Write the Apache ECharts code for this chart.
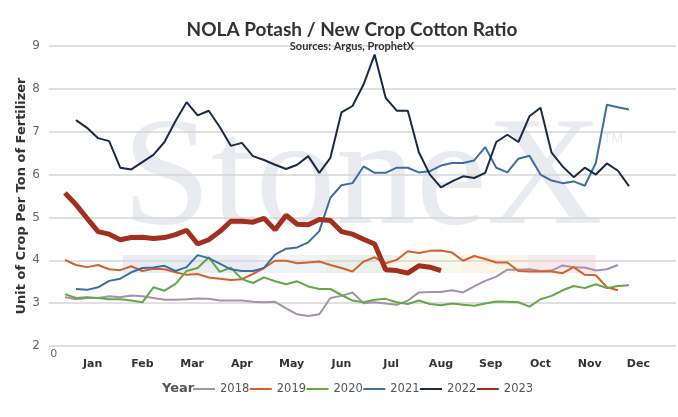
<!DOCTYPE html>
<html>
<head>
<meta charset="utf-8">
<script src="https://cdn.jsdelivr.net/npm/echarts@6/dist/echarts.min.js"></script>
<style>
  html, body { margin: 0; padding: 0; background: #fff; }
  #main { width: 678px; height: 417px; }
</style>
</head>
<body>
<div id="main"></div>
<script>
// weekly ratios
const years = ['2018', '2019', '2020', '2021', '2022', '2023'];
const startWeek = [1, 1, 1, 2, 2, 1];

const y2018 = [3.14, 3.09, 3.12, 3.12, 3.16, 3.14, 3.18, 3.16, 3.12, 3.08, 3.08, 3.09, 3.11, 3.10, 3.06, 3.06, 3.06,
  3.03, 3.02, 3.03, 2.88, 2.74, 2.70, 2.74, 3.12, 3.17, 3.25, 3.00, 3.02, 2.99, 2.96, 3.06, 3.25, 3.26, 3.26, 3.30,
  3.25, 3.39, 3.52, 3.62, 3.78, 3.78, 3.79, 3.75, 3.76, 3.88, 3.84, 3.83, 3.76, 3.79, 3.89];
const y2019 = [4.01, 3.89, 3.84, 3.89, 3.79, 3.77, 3.86, 3.75, 3.80, 3.79, 3.72, 3.66, 3.68, 3.60, 3.57, 3.54, 3.56,
  3.68, 3.82, 3.99, 3.99, 3.93, 3.95, 3.97, 3.89, 3.82, 3.74, 3.97, 4.07, 3.93, 4.01, 4.21, 4.17, 4.22, 4.23, 4.18,
  3.99, 4.10, 4.03, 3.95, 3.95, 3.75, 3.74, 3.74, 3.74, 3.70, 3.84, 3.66, 3.65, 3.37, 3.30];
const y2020 = [3.21, 3.12, 3.14, 3.12, 3.09, 3.09, 3.06, 3.02, 3.37, 3.29, 3.45, 3.75, 3.82, 4.07, 3.73, 3.83, 3.56, 3.47,
  3.60, 3.51, 3.44, 3.51, 3.39, 3.33, 3.33, 3.19, 3.06, 3.02, 3.08, 3.10, 3.02, 2.98, 3.06, 2.98, 2.95, 2.99, 2.96,
  2.94, 2.99, 3.04, 3.03, 3.02, 2.92, 3.09, 3.17, 3.30, 3.40, 3.35, 3.44, 3.35, 3.40, 3.42];
const y2021 = [3.33, 3.31, 3.37, 3.52, 3.57, 3.72, 3.82, 3.83, 3.87, 3.75, 3.84, 4.12, 4.05, 3.92, 3.79, 3.75, 3.75,
  3.82, 4.13, 4.27, 4.30, 4.42,
  4.68, 5.46, 5.75, 5.80, 6.19, 6.04, 6.04, 6.16, 6.16, 6.05, 6.08, 6.21, 6.27, 6.27, 6.33, 6.64, 6.16, 6.05, 6.37,
  6.44, 6.00, 5.86, 5.80, 5.84, 5.74, 6.27, 7.63, 7.57, 7.52];
const y2022 = [7.27, 7.09, 6.85, 6.78, 6.16, 6.12, 6.29, 6.46, 6.76, 7.25, 7.69, 7.38, 7.49, 7.11, 6.67, 6.74, 6.43,
  6.34, 6.23, 6.13, 6.23, 6.43, 6.04, 6.39,
  7.45, 7.60, 8.10, 8.80, 7.79, 7.49, 7.49, 6.52, 6.00, 5.70, 5.84, 5.96, 5.92, 6.04, 6.76, 6.93, 6.76, 7.36, 7.56,
  6.51, 6.19, 5.94, 6.16, 6.00, 6.26, 6.09, 5.73];
const y2023 = [5.57, 5.30, 4.98, 4.67, 4.61, 4.48, 4.53, 4.54, 4.51, 4.53, 4.60, 4.70, 4.38, 4.48, 4.67, 4.91, 4.91,
  4.89, 4.98, 4.71, 5.05, 4.84, 4.83, 4.95, 4.93, 4.67, 4.61, 4.49, 4.38, 3.78, 3.76, 3.70, 3.87, 3.84, 3.76];

const values = [y2018, y2019, y2020, y2021, y2022, y2023];
const colors = ['#a590ae', '#d2622c', '#62a844', '#3c6ea6', '#1b2a44', '#a3301f'];
const widths = [2, 2, 2, 2, 2, 5];

// month labels sit at these week positions
const months = ['Jan', 'Feb', 'Mar', 'Apr', 'May', 'Jun', 'Jul', 'Aug', 'Sep', 'Oct', 'Nov', 'Dec'];
const monthWeeks = [3.5, 8.0, 12.5, 17.0, 21.5, 26.0, 30.5, 35.0, 39.5, 44.0, 48.45, 52.85];
const yTicks = [2, 3, 4, 5, 6, 7, 8, 9];

const chart = echarts.init(document.getElementById('main'), null, { renderer: 'canvas' });

const series = years.map(function (name, i) {
  return {
    name: name,
    type: 'line',
    symbol: 'none',
    smooth: false,
    data: values[i].map(function (v, k) { return [startWeek[i] + k, v]; }),
    lineStyle: { color: colors[i], width: widths[i] },
    itemStyle: { color: colors[i] },
    z: 2 + i
  };
});

// StoneX logo watermark with coloured bar
const bands = [
  [122.7, 257.7, '#e9edf3'],
  [257.7, 325.7, '#eef3f8'],
  [325.7, 392.7, '#e7f0e9'],
  [392.7, 460.7, '#f8f9ea'],
  [460.7, 527.7, '#fcf5e7'],
  [527.7, 595.7, '#f9e8eb']
];
const logo = bands.map(function (b) {
  return {
    type: 'rect', z: -1, silent: true,
    shape: { x: b[0], y: 255, width: b[1] - b[0], height: 18 },
    style: { fill: b[2] }
  };
});
logo.push({
  type: 'text', z: -1, silent: true,
  x: 122, y: 183, scaleX: 1.04,
  style: {
    text: 'StoneX', x: 0, y: 0, textVerticalAlign: 'middle',
    fontFamily: 'Liberation Serif', fontSize: 154, fill: '#e8ebf0'
  }
});
logo.push({
  type: 'text', z: -1, silent: true,
  style: {
    text: 'TM', x: 603, y: 139, textVerticalAlign: 'middle',
    fontFamily: 'Liberation Sans', fontSize: 14, fill: '#e8ebf0'
  }
});
logo.push({
  type: 'text', silent: true,
  style: {
    text: 'Year', x: 162, y: 389, textVerticalAlign: 'middle',
    fontFamily: 'DejaVu Sans', fontWeight: 'bold', fontSize: 13, fill: '#555'
  }
});

const option = {
  animation: false,
  title: {
    text: 'NOLA Potash / New Crop Cotton Ratio',
    subtext: 'Sources: Argus, ProphetX',
    left: 347,
    textAlign: 'center',
    top: 15,
    itemGap: 2,
    textStyle: { fontFamily: 'Lato', fontWeight: 'bold', fontSize: 19, color: '#333' },
    subtextStyle: { fontFamily: 'Lato', fontWeight: 'bold', fontSize: 11, color: '#333' }
  },
  graphic: logo,
  legend: {
    data: years,
    left: 193,
    top: 383,
    padding: 0,
    icon: 'rect',
    itemWidth: 22,
    itemHeight: 2,
    itemGap: 0.5,
    textStyle: { fontFamily: 'DejaVu Sans', fontSize: 11.5, color: '#555' }
  },
  grid: { left: 49, right: 2, top: 46, bottom: 71 },
  xAxis: [{
    type: 'value',
    min: -0.44,
    max: 56.25,
    axisLine: { show: false },
    axisTick: { show: false },
    splitLine: { show: false },
    axisLabel: {
      customValues: [0],
      formatter: function () { return '0'; },
      color: '#666', fontFamily: 'DejaVu Sans', fontSize: 11, margin: 3
    }
  }, {
    type: 'value',
    position: 'bottom',
    min: -0.44,
    max: 56.25,
    axisLine: { show: false },
    axisTick: { show: false },
    splitLine: { show: false },
    axisLabel: {
      customValues: monthWeeks,
      formatter: function (v) {
        const idx = monthWeeks.indexOf(v);
        return idx >= 0 ? months[idx] : '';
      },
      color: '#333', fontFamily: 'DejaVu Sans', fontWeight: 'bold', fontSize: 11, margin: 13
    }
  }],
  yAxis: {
    type: 'value',
    min: yTicks[0],
    max: yTicks[yTicks.length - 1],
    interval: 1,
    name: 'Unit of Crop Per Ton of Fertilizer',
    nameLocation: 'middle',
    nameGap: 21,
    nameMoveOverlap: false,
    nameTextStyle: { fontFamily: 'DejaVu Sans', fontWeight: 'bold', fontSize: 13, color: '#333' },
    axisLine: { show: false },
    axisTick: { show: false },
    axisLabel: { color: '#666', fontFamily: 'DejaVu Sans', fontSize: 12, margin: 9 },
    splitLine: { lineStyle: { color: '#d6d6d6', width: 1.5 } }
  },
  series: series
};

chart.setOption(option);
</script>
</body>
</html>
